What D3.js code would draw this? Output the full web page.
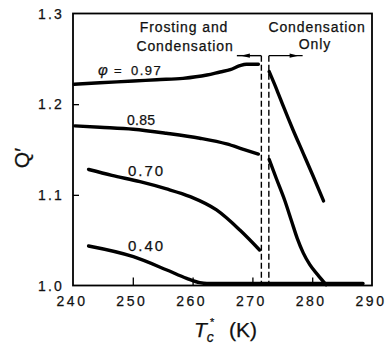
<!DOCTYPE html>
<html><head><meta charset="utf-8">
<script src="https://cdn.jsdelivr.net/npm/d3@7/dist/d3.min.js"></script>
<style>body{margin:0;background:#fff}svg{display:block}text{stroke:#111;stroke-width:0.25px}</style>
</head><body><svg id="c" width="385" height="347"></svg>
<script>
// ---- data ----
const xTicks = [240, 250, 260, 270, 280, 290];
const yTicks = [1.0, 1.1, 1.2, 1.3];
const seriesNames = ["0.97", "0.85", "0.70", "0.40"];
// Frosting and condensation region
const t097 = [240.2, 244.5, 250.1, 254.0, 258.4, 262.4, 264.6, 266.3, 267.9, 269.0, 271.0];
const q097 = [1.222, 1.2237, 1.2255, 1.227, 1.2285, 1.2322, 1.2355, 1.238, 1.2424, 1.244, 1.244];
const t085 = [240.3, 244.5, 250.1, 255.6, 261.2, 265.7, 268.5, 271.0];
const q085 = [1.176, 1.1745, 1.1723, 1.1679, 1.1624, 1.1561, 1.1502, 1.145];
const t070 = [242.6, 246.5, 251.2, 255.5, 259.6, 264.0, 267.9, 271.2];
const q070 = [1.128, 1.1215, 1.1145, 1.1068, 1.098, 1.0833, 1.0612, 1.0392];
const t040 = [242.6, 250.1, 255.7, 259.0, 261.2, 262.4, 270.0, 280.0, 288.5];
const q040 = [1.0436, 1.0318, 1.0171, 1.0079, 1.0031, 1.0022, 1.0022, 1.0022, 1.0022];
// Condensation only region
const tc097 = [272.8, 274.1, 275.2, 276.8, 278.5, 280.2, 281.9];
const qc097 = [1.236, 1.2156, 1.1972, 1.1715, 1.1458, 1.12, 1.0932];
const tc070 = [272.8, 274.0, 275.4, 276.5, 277.5, 278.5, 279.6, 280.9, 282.3];
const qc070 = [1.139, 1.118, 1.094, 1.072, 1.052, 1.036, 1.023, 1.012, 1.001];
// region boundaries (K) and bracket height (Q')
const boundaries = [271.5, 272.75];
const bracketQ = 1.2535;
const arrowEnds = [267.4, 278.4];

// ---- drawing ----
const svg = d3.select("#c");
const L = 73, R = 372, T = 13.5, B = 285.5;
const x = d3.scaleLinear().domain([240, 290]).range([L, R]);
const y = d3.scaleLinear().domain([1.0, 1.3]).range([B, T]);
const font = "'Liberation Sans', Arial, Helvetica, sans-serif";

// frame
svg.append("rect").attr("x", L).attr("y", T).attr("width", R - L).attr("height", B - T)
  .attr("fill", "none").attr("stroke", "#000").attr("stroke-width", 1.8);

// inward ticks
svg.append("g").attr("transform", `translate(0,${B})`)
  .call(d3.axisBottom(x).tickValues(xTicks.slice(1, -1)).tickSizeInner(-8).tickSizeOuter(0).tickFormat(""))
  .call(g => g.select(".domain").remove())
  .call(g => g.selectAll("line").attr("stroke", "#000").attr("stroke-width", 1.3));
svg.append("g").attr("transform", `translate(${L},0)`)
  .call(d3.axisLeft(y).tickValues(yTicks.slice(1, -1)).tickSizeInner(-6).tickSizeOuter(0).tickFormat(""))
  .call(g => g.select(".domain").remove())
  .call(g => g.selectAll("line").attr("stroke", "#000").attr("stroke-width", 1.3));

// tick labels
svg.append("g").selectAll("text").data(xTicks).join("text")
  .attr("x", d => x(d) - 1).attr("y", 306)
  .attr("text-anchor", "middle").attr("font-family", font).attr("font-size", 14)
  .attr("letter-spacing", 2.5).attr("fill", "#111")
  .text(d => d);
svg.append("g").selectAll("text").data(yTicks).join("text")
  .attr("x", 64).attr("y", d => y(d)).attr("dy", "0.36em")
  .attr("text-anchor", "end").attr("font-family", font).attr("font-size", 14)
  .attr("letter-spacing", 2.2).attr("fill", "#111")
  .text(d => d3.format(".1f")(d));

// axis titles
const xt = svg.append("text").attr("x", 194).attr("y", 337)
  .attr("font-family", font).attr("font-size", 21).attr("fill", "#111");
xt.append("tspan").attr("font-style", "italic").text("T");
xt.append("tspan").attr("font-style", "italic").attr("font-size", 14).attr("dy", 5).text("c");
xt.append("tspan").attr("x", 229).attr("dy", -5).text("(K)");
svg.append("text").attr("x", 210).attr("y", 325.5)
  .attr("font-family", font).attr("font-size", 11).attr("fill", "#111").text("*");

svg.append("text").attr("transform", "translate(29,158) rotate(-90)")
  .attr("text-anchor", "middle").attr("font-family", font).attr("font-size", 21).attr("fill", "#111")
  .text("Q′");

// curves
const line = d3.line().x(d => x(d[0])).y(d => y(d[1])).curve(d3.curveMonotoneX);
const zip = (a, b) => a.map((v, i) => [v, b[i]]);
const curves = [zip(t097, q097), zip(t085, q085), zip(t070, q070), zip(t040, q040), zip(tc097, qc097), zip(tc070, qc070)];
svg.append("g").selectAll("path").data(curves).join("path")
  .attr("d", line).attr("fill", "none").attr("stroke", "#000")
  .attr("stroke-width", 3.4).attr("stroke-linecap", "round").attr("stroke-linejoin", "round");

// dashed boundary lines
svg.append("g").selectAll("line").data(boundaries).join("line")
  .attr("x1", d => x(d)).attr("x2", d => x(d))
  .attr("y1", y(bracketQ)).attr("y2", B)
  .attr("stroke", "#000").attr("stroke-width", 1.4).attr("stroke-dasharray", "6,3");

// arrows
const ay = y(bracketQ);
[[0, -1], [1, 1]].forEach(([i, dir]) => {
  const x0 = x(boundaries[i]), x1 = x(arrowEnds[i]);
  svg.append("line").attr("x1", x0).attr("x2", x1).attr("y1", ay).attr("y2", ay)
    .attr("stroke", "#000").attr("stroke-width", 1.4);
  const tip = x1 - dir * 4;
  svg.append("path")
    .attr("d", `M${tip},${ay} L${tip - dir * 9},${ay - 2.2} L${tip - dir * 9},${ay + 2.2} Z`)
    .attr("fill", "#000");
});

// region texts
function label(txt, cx, by) {
  svg.append("text").attr("x", cx).attr("y", by).attr("text-anchor", "middle")
    .attr("font-family", font).attr("font-size", 14).attr("letter-spacing", 0.9).attr("fill", "#111").text(txt);
}
label("Frosting and", 184, 32);
label("Condensation", 185, 51);
label("Condensation", 317, 32);
label("Only", 315, 49);

// series labels
const l97 = svg.append("text").attr("y", 75).attr("font-family", font).attr("font-size", 13).attr("fill", "#111");
l97.append("tspan").attr("x", 98).attr("font-style", "italic").attr("font-size", 15).text("φ");
l97.append("tspan").attr("x", 114).text("=");
l97.append("tspan").attr("x", 131).attr("letter-spacing", 1.5).text(seriesNames[0]);
svg.append("text").attr("x", 127).attr("y", 125).attr("font-family", font).attr("font-size", 14)
  .attr("letter-spacing", 0.3).attr("fill", "#111").text(seriesNames[1]);
svg.append("text").attr("x", 128).attr("y", 176).attr("font-family", font).attr("font-size", 15)
  .attr("letter-spacing", 2).attr("fill", "#111").text(seriesNames[2]);
svg.append("text").attr("x", 128).attr("y", 250.5).attr("font-family", font).attr("font-size", 15)
  .attr("letter-spacing", 2).attr("fill", "#111").text(seriesNames[3]);
</script></body></html>
